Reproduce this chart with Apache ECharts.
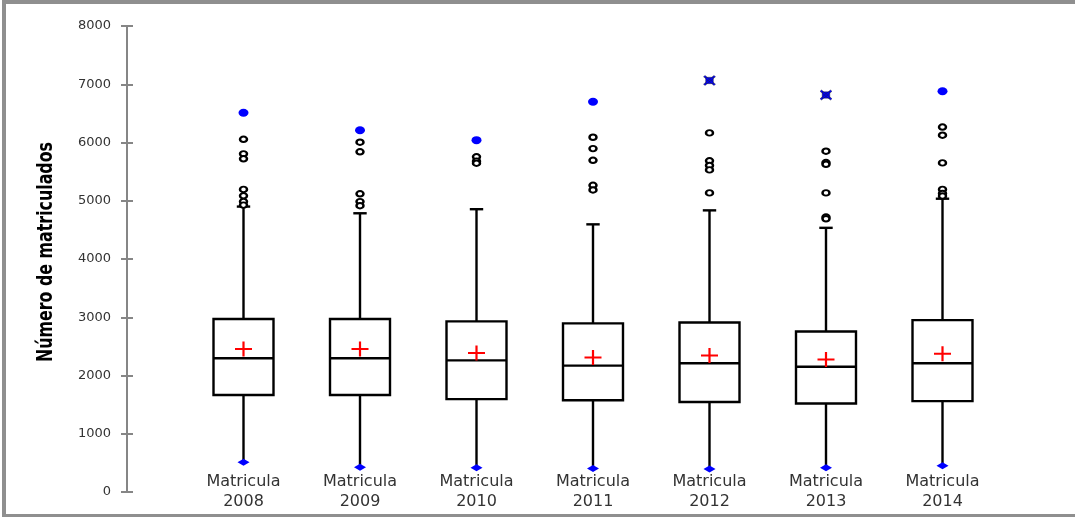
<!DOCTYPE html>
<html>
<head>
<meta charset="utf-8">
<script src="https://cdn.jsdelivr.net/npm/echarts@6/dist/echarts.min.js"></script>
<style>html,body{margin:0;padding:0;background:#fff;}#chart{width:1075px;height:517px;}</style>
</head>
<body>
<div id="chart"></div>
<script>
const categories = ['2008', '2009', '2010', '2011', '2012', '2013', '2014'];
const categoryPrefix = 'Matricula';
const yAxisTitle = 'Número de matriculados';
const minVals = [510, 425, 415, 405, 395, 415, 450];
const q1Vals = [1665, 1665, 1595, 1575, 1545, 1520, 1560];
const medianVals = [2295, 2295, 2260, 2170, 2210, 2150, 2210];
const q3Vals = [2970, 2970, 2930, 2895, 2910, 2755, 2950];
const upperWhiskerVals = [4900, 4785, 4855, 4595, 4835, 4535, 5035];
const meanVals = [2455, 2455, 2385, 2310, 2345, 2275, 2375];
const maxVals = [6510, 6210, 6040, 6700, 7065, 6815, 6880];
const maxMarker = ['circle', 'circle', 'circle', 'circle', 'star', 'star', 'circle'];
const outliers2008 = [6055, 5805, 5720, 5195, 5085, 4985, 4925];
const outliers2009 = [6005, 5840, 5120, 4985, 4915];
const outliers2010 = [5755, 5680, 5645];
const outliers2011 = [6090, 5895, 5695, 5265, 5185];
const outliers2012 = [6165, 5685, 5605, 5530, 5135];
const outliers2013 = [5850, 5655, 5625, 5135, 4720, 4690];
const outliers2014 = [6265, 6125, 5650, 5195, 5125, 5080];
const outlierLists = [outliers2008, outliers2009, outliers2010, outliers2011, outliers2012, outliers2013, outliers2014];
const yTicks = { min: 0, max: 8000, interval: 1000 };

// category axis: empty slot at both ends so boxes sit between the axis ends
const axisCats = [''].concat(categories.map(c => categoryPrefix + '\n' + c)).concat(['']);
const idx = i => i + 1;

const boxData = categories.map((c, i) => [idx(i), minVals[i], q1Vals[i], medianVals[i], q3Vals[i], upperWhiskerVals[i]]);
const outlierData = [];
outlierLists.forEach((list, i) => list.forEach(v => outlierData.push([idx(i), v])));
const maxCircleData = [], maxStarData = [];
maxVals.forEach((v, i) => (maxMarker[i] === 'star' ? maxStarData : maxCircleData).push([idx(i), v]));
const minData = minVals.map((v, i) => [idx(i), v]);
const meanData = meanVals.map((v, i) => [idx(i), v]);

const plusPath = 'path://M0,4.35H10V5.65H0Z M4.35,0H5.65V10H4.35Z';
const starPath = 'path://M1.8,1.8H8.2V8.2H1.8Z M0,1.3L1.3,0L10,8.7L8.7,10Z M8.7,0L10,1.3L1.3,10L0,8.7Z';

function renderBox(params, api) {
  const x = api.value(0);
  const band = api.size([1, 0])[0];
  const bw = band * 0.515;
  const cw = band * 0.115;
  const pMin = api.coord([x, api.value(1)]);
  const pQ1 = api.coord([x, api.value(2)]);
  const pMed = api.coord([x, api.value(3)]);
  const pQ3 = api.coord([x, api.value(4)]);
  const pUp = api.coord([x, api.value(5)]);
  const cx = pQ1[0];
  const st = { stroke: '#000', lineWidth: 2.4, fill: null };
  return {
    type: 'group',
    children: [
      { type: 'line', shape: { x1: cx, y1: pQ3[1], x2: cx, y2: pUp[1] }, style: st },
      { type: 'line', shape: { x1: cx - cw / 2, y1: pUp[1], x2: cx + cw / 2, y2: pUp[1] }, style: st },
      { type: 'line', shape: { x1: cx, y1: pQ1[1], x2: cx, y2: pMin[1] }, style: st },
      { type: 'rect', shape: { x: cx - bw / 2, y: pQ3[1], width: bw, height: pQ1[1] - pQ3[1] }, style: { stroke: '#000', lineWidth: 2.4, fill: '#fff' } },
      { type: 'line', shape: { x1: cx - bw / 2, y1: pMed[1], x2: cx + bw / 2, y2: pMed[1] }, style: st }
    ]
  };
}

const chart = echarts.init(document.getElementById('chart'));
chart.setOption({
  animation: false,
  backgroundColor: '#fff',
  graphic: [{
    type: 'rect', silent: true, z: 100,
    shape: { x: 4, y: 2, width: 1200, height: 514 },
    style: { fill: null, stroke: '#8f8f8f', lineWidth: 4 }
  }, {
    type: 'text', silent: true, z: 100,
    x: 46, y: 252, rotation: Math.PI / 2, scaleX: 0.8, scaleY: 1,
    style: {
      text: yAxisTitle, fill: '#000',
      font: "bold 22px 'DejaVu Sans Condensed', 'DejaVu Sans', sans-serif",
      align: 'center', verticalAlign: 'middle'
    }
  }],
  grid: { left: 127, right: 16, top: 26, bottom: 25 },
  xAxis: {
    type: 'category',
    data: axisCats,
    boundaryGap: false,
    axisLine: { show: false },
    axisTick: { show: false },
    splitLine: { show: false },
    axisLabel: {
      interval: 0, margin: -20,
      fontFamily: 'DejaVu Sans', fontSize: 16, lineHeight: 20, color: '#333'
    }
  },
  yAxis: [{
    type: 'value', min: yTicks.min, max: yTicks.max, interval: yTicks.interval,
    axisLine: { show: true, lineStyle: { color: '#868686', width: 2 } },
    axisTick: { show: true, length: 6, lineStyle: { color: '#868686', width: 2 } },
    splitLine: { show: false },
    axisLabel: { margin: 16, fontFamily: 'DejaVu Sans', fontSize: 13, color: '#333', formatter: v => String(v) }
  }, {
    type: 'value', position: 'left', offset: 0, min: yTicks.min, max: yTicks.max, interval: yTicks.interval,
    axisLine: { show: false },
    axisTick: { show: true, inside: true, length: 6, lineStyle: { color: '#868686', width: 2 } },
    splitLine: { show: false },
    axisLabel: { show: false }
  }],
  series: [
    { type: 'custom', renderItem: renderBox, data: boxData, encode: { x: 0, y: [1, 2, 3, 4, 5] }, z: 2 },
    { type: 'scatter', data: outlierData, symbol: 'circle', symbolSize: [7, 5.5], itemStyle: { color: '#fff', borderColor: '#000', borderWidth: 2.2, opacity: 1 }, z: 3 },
    { type: 'scatter', data: maxCircleData, symbol: 'circle', symbolSize: [10, 8], itemStyle: { color: '#0000ff', opacity: 1 }, z: 3 },
    { type: 'scatter', data: maxStarData, symbol: starPath, symbolSize: [12, 10], itemStyle: { color: '#0000ff', borderColor: '#222', borderWidth: 0.4, opacity: 1 }, z: 3 },
    { type: 'scatter', data: minData, symbol: 'diamond', symbolSize: [12, 7], itemStyle: { color: '#0000ff', opacity: 1 }, z: 4 },
    { type: 'scatter', data: meanData, symbol: plusPath, symbolSize: [17, 15], itemStyle: { color: '#ff0000', opacity: 1 }, z: 5 }
  ]
});
</script>
</body>
</html>
